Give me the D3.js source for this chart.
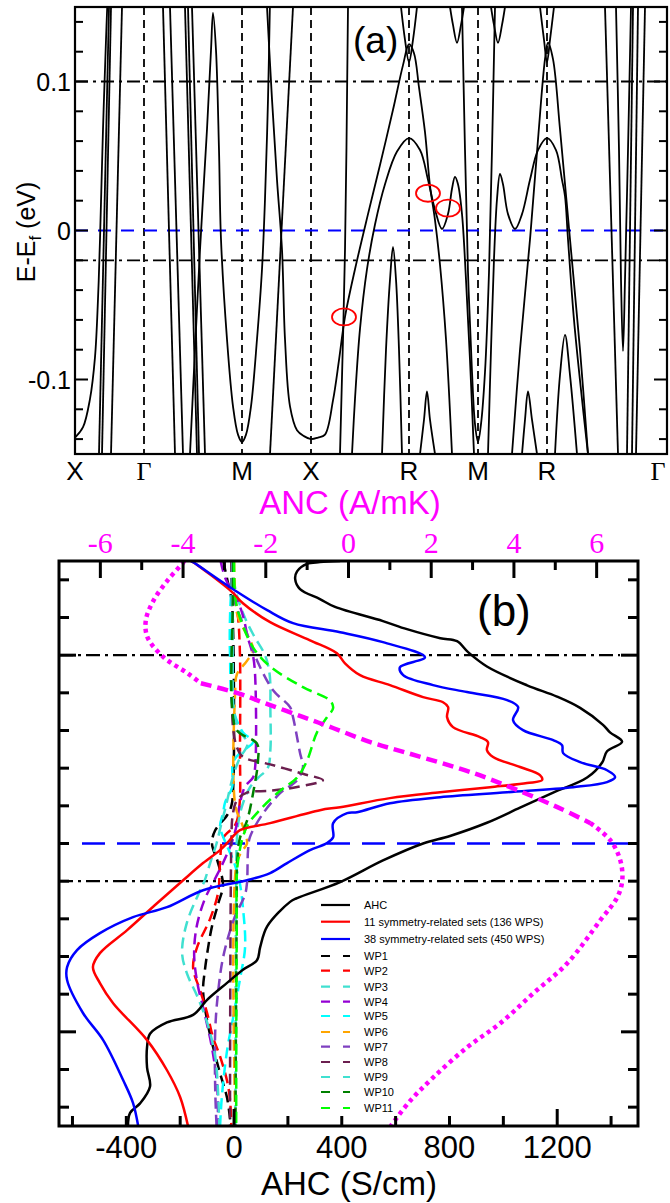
<!DOCTYPE html>
<html><head><meta charset="utf-8">
<script src="https://cdn.jsdelivr.net/npm/d3@7"></script>
<style>
body{margin:0;background:#fff}
text{font-family:"Liberation Sans",Arial,Helvetica,sans-serif}
</style></head>
<body><svg id="chart" width="670" height="1203"></svg>
<script>
// ---------------- DATA ----------------
// Panel (a): band structure. k in path units, E in eV
const kLabels = ["X","Γ","M","X","R","M","R","Γ"];
const kPositions = [0,0.69,1.67,2.36,3.34,4.03,4.72,5.92];
const kVerticals = [0.69,1.67,2.36,3.34,4.03,4.72];
const eTicksMajorA = [-0.1,0,0.1];
const refDashDot = [0.1,-0.02];
const bands = [
  [[0,-0.139],[0.08,-0.132],[0.15,-0.113],[0.20,-0.085],[0.23,-0.046],[0.25,-0.006],[0.28,0.068],[0.31,0.128],[0.325,0.155]],
  [[0.24,-0.15],[0.34,0.15]],
  [[0.27,-0.15],[0.36,0.15]],
  [[0.36,-0.15],[0.47,0.15]],
  [[0.88,0.15],[1.00,-0.15]],
  [[0.95,0.15],[1.08,-0.15]],
  [[1.10,0.15],[1.22,-0.15]],
  [[1.13,0.15],[1.24,-0.15]],
  [[1.17,0.15],[1.30,-0.15]],
  [[1.15,-0.150],[1.20,-0.080],[1.25,-0.013],[1.32,0.068],[1.36,0.121],[1.38,0.146],[1.41,0.121],[1.44,0.054],[1.46,-0.006],[1.52,-0.073],[1.58,-0.118],[1.63,-0.137],[1.67,-0.142],[1.71,-0.137],[1.76,-0.118],[1.82,-0.073],[1.87,-0.026],[1.90,0.021],[1.93,0.088],[1.95,0.155]],
  [[1.95,-0.15],[2.18,0.15]],
  [[1.92,0.150],[1.97,0.088],[2.02,0.034],[2.07,-0.013],[2.10,-0.073],[2.15,-0.118],[2.22,-0.134],[2.29,-0.138],[2.36,-0.140],[2.43,-0.139],[2.50,-0.137],[2.58,-0.114],[2.64,-0.087],[2.70,-0.058],[2.80,-0.026],[2.93,0.011],[3.05,0.044],[3.18,0.081],[3.28,0.111],[3.34,0.125],[3.39,0.119],[3.44,0.096],[3.50,0.066],[3.55,0.030],[3.60,0.007],[3.65,-0.023],[3.71,-0.073],[3.77,-0.150]],
  [[2.77,-0.150],[2.80,-0.113],[2.85,-0.066],[2.92,-0.026],[3.00,0.004],[3.10,0.031],[3.22,0.053],[3.34,0.062],[3.45,0.054],[3.53,0.034],[3.60,0.014],[3.67,0.001],[3.73,0.011],[3.77,0.028],[3.80,0.036],[3.83,0.031],[3.87,0.011],[3.91,-0.033],[3.95,-0.087],[3.99,-0.150]],
  [[2.73,0.15],[2.70,-0.013],[2.65,-0.15]],
  [[3.26,0.150],[3.30,0.128],[3.34,0.113],[3.38,0.128],[3.42,0.150]],
  [[3.75,0.150],[3.78,0.138],[3.82,0.126],[3.86,0.138],[3.89,0.150]],
  [[3.87,0.150],[3.90,0.054],[3.93,-0.028],[3.97,-0.095],[4.00,-0.130],[4.03,-0.142],[4.06,-0.130],[4.10,-0.095],[4.14,-0.028],[4.17,0.054],[4.20,0.150]],
  [[4.16,0.150],[4.19,0.138],[4.23,0.126],[4.27,0.138],[4.30,0.150]],
  [[3.07,-0.150],[3.11,-0.080],[3.15,-0.033],[3.18,-0.011],[3.21,-0.033],[3.24,-0.080],[3.27,-0.150]],
  [[3.45,-0.150],[3.49,-0.127],[3.52,-0.108],[3.55,-0.127],[3.60,-0.150]],
  [[4.47,-0.150],[4.50,-0.127],[4.53,-0.108],[4.57,-0.127],[4.62,-0.150]],
  [[4.13,-0.150],[4.16,-0.080],[4.19,-0.019],[4.22,0.021],[4.25,0.038],[4.28,0.031],[4.33,0.011],[4.40,0.001],[4.47,0.011],[4.55,0.034],[4.63,0.054],[4.72,0.062],[4.81,0.054],[4.87,0.034],[4.90,0.023],[4.93,-0.006],[4.99,-0.060],[5.06,-0.107],[5.13,-0.150]],
  [[4.65,0.150],[4.69,0.128],[4.72,0.113],[4.75,0.128],[4.79,0.150]],
  [[4.37,-0.150],[4.45,-0.080],[4.55,-0.006],[4.63,0.061],[4.70,0.115],[4.73,0.126],[4.78,0.115],[4.85,0.068],[4.95,-0.006],[5.05,-0.080],[5.13,-0.150]],
  [[4.80,-0.150],[4.85,-0.097],[4.90,-0.070],[4.95,-0.097],[5.02,-0.150]],
  [[5.30,0.15],[5.43,-0.15]],
  [[5.41,0.150],[5.44,0.054],[5.46,-0.033],[5.48,-0.081],[5.50,-0.033],[5.53,0.054],[5.56,0.150]],
  [[5.58,0.15],[5.52,-0.15]],
  [[5.63,0.15],[5.57,-0.15]],
  [[5.70,0.15],[5.61,-0.15]]
];
const ellipses = [[2.69,-0.058],[3.53,0.025],[3.73,0.015]];

// Panel (b): AHC (S/cm) and ANC (A/mK) vs energy (eV)
const ahcTicks = [-600,-400,-200,0,200,400,600,800,1000,1200,1400];
const ahcLabels = [-400,0,400,800,1200];
const ancTicks = [-6,-5,-4,-3,-2,-1,0,1,2,3,4,5,6];
const ancLabels = [-6,-4,-2,0,2,4,6];
const eTicksB = [-0.14,-0.12,-0.1,-0.08,-0.06,-0.04,-0.02,0,0.02,0.04,0.06,0.08,0.1,0.12,0.14];

const ahcTotal = [[0.150,394],[0.1494,319],[0.1485,271],[0.1445,234],[0.1404,227],[0.1351,245],[0.1298,319],[0.1256,375],[0.1181,553],[0.1138,642],[0.1090,766],[0.1074,828],[0.1016,869],[0.094,939],[0.084,1088],[0.078,1199],[0.072,1285],[0.063,1370],[0.059,1396],[0.054,1441],[0.049,1385],[0.043,1367],[0.035,1311],[0.027,1185],[0.019,1062],[0.011,939],[0.004,802],[0.000,702],[-0.009,553],[-0.0205,394],[-0.029,234],[-0.031,208],[-0.044,123],[-0.055,97],[-0.062,85],[-0.067,33],[-0.074,-26],[-0.083,-100],[-0.091,-152],[-0.095,-249],[-0.101,-312],[-0.108,-323],[-0.119,-323],[-0.129,-312],[-0.138,-349],[-0.143,-386],[-0.150,-394]];
const ahcSets11 = [[0.150,-160],[0.1494,-152],[0.1335,-7],[0.1276,33],[0.1175,134],[0.1079,282],[0.1010,382],[0.0957,412],[0.0894,468],[0.0841,579],[0.0777,702],[0.0750,776],[0.0724,795],[0.0671,791],[0.0618,813],[0.0565,913],[0.0538,943],[0.0496,939],[0.0459,962],[0.0406,1062],[0.0363,1136],[0.0337,1144],[0.0321,1088],[0.0299,951],[0.0272,765],[0.0241,579],[0.0193,394],[0.0177,319],[0.0108,134],[0.0071,22],[0.0033,-7],[0.0002,-26],[-0.0035,-52],[-0.0104,-115],[-0.0195,-189],[-0.0317,-286],[-0.046,-397],[-0.0582,-498],[-0.0656,-524],[-0.0741,-498],[-0.0848,-449],[-0.1044,-323],[-0.1204,-249],[-0.1347,-200],[-0.150,-171]];
const ahcSets38 = [[0.150,-160],[0.1494,-152],[0.1361,-15],[0.1239,123],[0.1170,219],[0.1122,394],[0.1069,553],[0.0989,709],[0.0936,616],[0.0894,628],[0.0841,739],[0.0804,865],[0.0761,1014],[0.0724,1055],[0.0655,1036],[0.0602,1073],[0.0549,1185],[0.0522,1218],[0.0480,1222],[0.0432,1285],[0.0389,1385],[0.0352,1415],[0.0326,1385],[0.0299,1259],[0.0272,1014],[0.0246,765],[0.0214,579],[0.0166,457],[0.0161,420],[0.0108,368],[0.0033,368],[0.0002,345],[-0.0035,282],[-0.0104,197],[-0.0157,134],[-0.0195,48],[-0.0248,-115],[-0.0338,-249],[-0.0391,-375],[-0.0476,-498],[-0.0566,-583],[-0.0656,-620],[-0.0725,-620],[-0.0900,-561],[-0.1044,-486],[-0.1256,-412],[-0.1378,-375],[-0.150,-356]];
const ancTotal = [[0.150,-3.97],[0.1488,-4.01],[0.1398,-4.37],[0.1292,-4.71],[0.1186,-4.90],[0.1095,-4.86],[0.0989,-4.47],[0.0904,-3.89],[0.0851,-3.57],[0.0798,-2.68],[0.0740,-1.96],[0.0671,-1.09],[0.0612,-0.36],[0.0538,0.53],[0.0480,1.43],[0.0374,3.02],[0.0284,4.08],[0.0193,5.05],[0.0108,5.85],[0.0018,6.33],[-0.0088,6.57],[-0.0195,6.62],[-0.0285,6.50],[-0.0407,6.09],[-0.0636,5.29],[-0.0795,4.47],[-0.0954,3.67],[-0.1082,2.87],[-0.1242,2.05],[-0.1364,1.50],[-0.150,1.02]];

const wp1 = [[0.15,-40],[0.14,-25],[0.13,-10],[0.11,-3],[0.03,-3],[0.02,-10],[0.015,-26],[0.007,-70],[0,-82],[-0.01,-60],[-0.022,-41],[-0.032,-59],[-0.044,-82],[-0.055,-96],[-0.067,-108],[-0.078,-115],[-0.094,-100],[-0.108,-78],[-0.122,-52],[-0.135,-26],[-0.15,-12]];
const wp2 = [[0.15,-5],[0.13,5],[0.12,15],[0.1,22],[0.05,22],[0.02,20],[0.01,5],[0.003,-40],[-0.01,-52],[-0.026,-59],[-0.04,-89],[-0.055,-137],[-0.066,-152],[-0.078,-126],[-0.09,-100],[-0.103,-78],[-0.113,-52],[-0.126,-26],[-0.136,-15],[-0.15,-10]];
const wp3 = [[0.15,-5],[0.135,5],[0.12,40],[0.11,75],[0.1,115],[0.09,132],[0.07,135],[0.05,135],[0.04,125],[0.035,90],[0.03,60],[0.02,30],[0.01,15],[0,10],[-0.02,8],[-0.15,5]];
const wp4 = [[0.15,-50],[0.14,-30],[0.13,10],[0.12,35],[0.11,50],[0.1,70],[0.09,78],[0.04,78],[0.035,70],[0.03,40],[0.02,20],[0.01,10],[0,-10],[-0.01,-40],[-0.02,-75],[-0.03,-110],[-0.045,-140],[-0.06,-148],[-0.075,-135],[-0.09,-110],[-0.11,-80],[-0.13,-62],[-0.15,-60]];
const wp5 = [[0.15,-5],[0.12,-15],[0.1,-15],[0.072,-4],[0.059,33],[0.054,71],[0.048,22],[0.043,-4],[0.03,-7],[0.022,-33],[0.016,-41],[0.009,-52],[0,-30],[-0.01,0],[-0.02,20],[-0.034,33],[-0.055,41],[-0.072,22],[-0.093,-4],[-0.11,-26],[-0.134,-45],[-0.15,-52]];
const wp6 = [[0.15,0],[0.13,5],[0.12,15],[0.103,71],[0.097,48],[0.09,11],[0.08,4],[0.02,5],[0.009,33],[0,48],[-0.004,30],[-0.01,10],[-0.15,5]];
const wp7 = [[0.15,-10],[0.13,0],[0.1115,48],[0.0973,85],[0.0814,145],[0.0724,208],[0.0671,219],[0.048,245],[0.0405,256],[0.0336,234],[0.0267,171],[0.016,108],[0.0034,59],[-0.0035,52],[-0.021,48],[-0.027,41],[-0.04,0],[-0.06,-40],[-0.08,-60],[-0.1,-70],[-0.13,-70],[-0.15,-65]];
const wp8 = [[0.15,-10],[0.124,-7],[0.062,-4],[0.051,11],[0.046,33],[0.042,134],[0.037,256],[0.0336,330],[0.030,234],[0.028,134],[0.027,48],[0.023,11],[0.015,-5],[0,-10],[-0.15,-15]];
const wp9 = [[0.15,-5],[0.1,-5],[0.07,0],[0.06,20],[0.053,50],[0.045,20],[0.035,-5],[0.02,-30],[0.01,-48],[0,-65],[-0.01,-88],[-0.02,-110],[-0.025,-126],[-0.042,-175],[-0.058,-193],[-0.069,-175],[-0.081,-137],[-0.095,-100],[-0.113,-70],[-0.13,-60],[-0.15,-55]];
const wp10 = [[0.15,-3],[0.13,-4],[0.072,-7],[0.06,11],[0.053,85],[0.044,89],[0.027,71],[0.012,48],[0.003,22],[-0.012,11],[-0.03,10],[-0.15,5]];
const wp11 = [[0.15,0],[0.13,5],[0.12,22],[0.104,71],[0.094,134],[0.083,256],[0.076,356],[0.072,368],[0.067,345],[0.059,308],[0.044,271],[0.035,234],[0.028,171],[0.018,97],[0.009,48],[-0.009,15],[-0.05,10],[-0.15,8]];

const wpNames = ["WP1","WP2","WP3","WP4","WP5","WP6","WP7","WP8","WP9","WP10","WP11"];
const wpColors = ["#000000","#ff0000","#40e0d0","#9400d3","#00ffff","#ffa500","#7f40c0","#6b1f4f","#40e0d0","#008000","#00ff00"];
const wpSeries = [wp1,wp2,wp3,wp4,wp5,wp6,wp7,wp8,wp9,wp10,wp11];
const legendSolid = [["AHC","#000000"],["11 symmetry-related sets (136 WPS)","#ff0000"],["38 symmetry-related sets (450 WPS)","#0000ff"]];

// ---------------- DRAWING ----------------
const svg = d3.select("#chart");
const fmtHyphen = (d,p) => d===0 ? "0" : (d<0?"-":"") + (p!=null ? Math.abs(d).toFixed(p) : String(Math.abs(d)));

// ===== Panel (a) =====
const A = {l:75, r:667, t:7, b:454};
const kx = d3.scaleLinear().domain([0,5.92]).range([A.l,A.r]);
const ey = d3.scaleLinear().domain([-0.15,0.15]).range([A.b,A.t]);
const ga = svg.append("g");
ga.append("defs").append("clipPath").attr("id","clipA").append("rect")
  .attr("x",A.l).attr("y",A.t).attr("width",A.r-A.l).attr("height",A.b-A.t);

const gA = ga.append("g").attr("clip-path","url(#clipA)");
gA.selectAll("line.kv").data(kVerticals).join("line")
  .attr("x1",d=>kx(d)).attr("x2",d=>kx(d)).attr("y1",A.t).attr("y2",A.b)
  .attr("stroke","#000").attr("stroke-width",1.8).attr("stroke-dasharray","8,5");
gA.selectAll("line.dd").data(refDashDot).join("line")
  .attr("x1",A.l).attr("x2",A.r).attr("y1",d=>ey(d)).attr("y2",d=>ey(d))
  .attr("stroke","#000").attr("stroke-width",1.8).attr("stroke-dasharray","13,5,3,5");
gA.append("line").attr("x1",A.l).attr("x2",A.r).attr("y1",ey(0)).attr("y2",ey(0))
  .attr("stroke","#0000ff").attr("stroke-width",2).attr("stroke-dasharray","13,10");
const bandLine = d3.line().x(d=>kx(d[0])).y(d=>ey(d[1])).curve(d3.curveCatmullRom.alpha(0.5));
gA.selectAll("path.band").data(bands).join("path")
  .attr("d",bandLine).attr("fill","none").attr("stroke","#000").attr("stroke-width",1.8);
gA.selectAll("ellipse").data(ellipses).join("ellipse")
  .attr("cx",d=>kx(d[0])).attr("cy",d=>ey(d[1])).attr("rx",12).attr("ry",8.5)
  .attr("fill","none").attr("stroke","#ff0000").attr("stroke-width",1.8);

ga.append("rect").attr("x",A.l).attr("y",A.t).attr("width",A.r-A.l).attr("height",A.b-A.t)
  .attr("fill","none").attr("stroke","#000").attr("stroke-width",2.2);
const eTicksA = d3.range(-7,8).map(i=>i*0.02);
eTicksA.forEach(v=>{
  const major = eTicksMajorA.some(m=>Math.abs(m-v)<1e-9);
  const len = major?13:8;
  ga.append("line").attr("x1",A.l).attr("x2",A.l+len).attr("y1",ey(v)).attr("y2",ey(v)).attr("stroke","#000").attr("stroke-width",2);
  ga.append("line").attr("x1",A.r).attr("x2",A.r-len).attr("y1",ey(v)).attr("y2",ey(v)).attr("stroke","#000").attr("stroke-width",2);
});
ga.selectAll("text.yl").data(eTicksMajorA).join("text")
  .attr("x",A.l-4).attr("y",d=>ey(d)+9).attr("text-anchor","end").attr("font-size",25)
  .text(d=>fmtHyphen(d,1));
ga.selectAll("text.kl").data(kPositions).join("text")
  .attr("x",(d,i)=>i===kPositions.length-1 ? kx(d)-9 : kx(d)).attr("y",480).attr("text-anchor","middle").attr("font-size",26)
  .style("font-family",(d,i)=>kLabels[i]==="Γ"?"'Liberation Serif',serif":null)
  .text((d,i)=>kLabels[i]);
const yl = ga.append("text").attr("transform","translate(35,232) rotate(-90)").attr("text-anchor","middle").attr("font-size",25);
yl.append("tspan").text("E-E");
yl.append("tspan").attr("font-size",17).attr("dy",6).text("f");
yl.append("tspan").attr("dy",-6).text(" (eV)");
ga.append("text").attr("x",353).attr("y",53).attr("font-size",37).text("(a)");

// ===== Panel (b) =====
const B = {l:59, r:638, t:561, b:1126};
const ahcX = d3.scaleLinear().domain([-650,1500]).range([B.l,B.r]);
const ancX = d3.scaleLinear().domain([-7,7]).range([B.l,B.r]);
const eyB = d3.scaleLinear().domain([-0.15,0.15]).range([B.b,B.t]);
const gb = svg.append("g");
gb.append("defs").append("clipPath").attr("id","clipB").append("rect")
  .attr("x",B.l).attr("y",B.t).attr("width",B.r-B.l).attr("height",B.b-B.t);
const gB = gb.append("g").attr("clip-path","url(#clipB)");

gB.selectAll("line.dd").data(refDashDot).join("line")
  .attr("x1",B.l).attr("x2",B.r-18).attr("y1",d=>eyB(d)).attr("y2",d=>eyB(d))
  .attr("stroke","#000").attr("stroke-width",2.2).attr("stroke-dasharray","14,5,3,5");
gB.append("line").attr("x1",B.l+23).attr("x2",B.r).attr("y1",eyB(0)).attr("y2",eyB(0))
  .attr("stroke","#0000ff").attr("stroke-width",2.5).attr("stroke-dasharray","23,12");

const ahcLine = d3.line().y(d=>eyB(d[0])).x(d=>ahcX(d[1])).curve(d3.curveCatmullRom.alpha(0.5));
const ancLine = d3.line().y(d=>eyB(d[0])).x(d=>ancX(d[1])).curve(d3.curveCatmullRom.alpha(0.5));

gB.selectAll("path.wp").data(wpSeries).join("path")
  .attr("d",ahcLine).attr("fill","none")
  .attr("stroke",(d,i)=>wpColors[i]).attr("stroke-width",2.5).attr("stroke-dasharray","11,6");
gB.append("path").datum(ahcTotal).attr("d",ahcLine).attr("fill","none").attr("stroke","#000").attr("stroke-width",2.5);
gB.append("path").datum(ahcSets11).attr("d",ahcLine).attr("fill","none").attr("stroke","#ff0000").attr("stroke-width",2.5);
gB.append("path").datum(ahcSets38).attr("d",ahcLine).attr("fill","none").attr("stroke","#0000ff").attr("stroke-width",2.5);
gB.append("path").datum(ancTotal.filter(d=>d[0]>=0.084)).attr("d",ancLine).attr("fill","none").attr("stroke","#ff00ff").attr("stroke-width",4.5).attr("stroke-dasharray","4,4");
gB.append("path").datum(ancTotal.filter(d=>d[0]<=0.0852&&d[0]>=0.0108)).attr("d",ancLine).attr("fill","none").attr("stroke","#ff00ff").attr("stroke-width",4.5).attr("stroke-dasharray","11,6");
gB.append("path").datum(ancTotal.filter(d=>d[0]<=0.0108)).attr("d",ancLine).attr("fill","none").attr("stroke","#ff00ff").attr("stroke-width",4.5).attr("stroke-dasharray","4,4");

gb.append("rect").attr("x",B.l).attr("y",B.t).attr("width",B.r-B.l).attr("height",B.b-B.t)
  .attr("fill","none").attr("stroke","#000").attr("stroke-width",3);
ancTicks.forEach(v=>{
  const len = (v%2===0)?17:9;
  gb.append("line").attr("x1",ancX(v)).attr("x2",ancX(v)).attr("y1",B.t).attr("y2",B.t+len).attr("stroke","#000").attr("stroke-width",3);
});
gb.selectAll("text.anc").data(ancLabels).join("text")
  .attr("x",d=>ancX(d)).attr("y",553).attr("text-anchor","middle").attr("font-size",30)
  .attr("fill","#ff00ff").style("font-family","'Liberation Serif','Times New Roman',serif")
  .text(d=>fmtHyphen(d));
gb.append("text").attr("x",350).attr("y",514).attr("text-anchor","middle").attr("font-size",33).attr("fill","#ff00ff").text("ANC (A/mK)");
ahcTicks.forEach(v=>{
  const len = (v===0||v===1200)?17:10;
  gb.append("line").attr("x1",ahcX(v)).attr("x2",ahcX(v)).attr("y1",B.b).attr("y2",B.b-len).attr("stroke","#000").attr("stroke-width",3);
});
gb.selectAll("text.ahc").data(ahcLabels).join("text")
  .attr("x",d=>ahcX(d)).attr("y",1158).attr("text-anchor","middle").attr("font-size",31)
  .text(d=>fmtHyphen(d));
gb.append("text").attr("x",349).attr("y",1195).attr("text-anchor","middle").attr("font-size",33).text("AHC (S/cm)");
eTicksB.forEach(v=>{
  const major = Math.abs(Math.abs(v)-0.1)<1e-9;
  const len = major?17:10;
  gb.append("line").attr("x1",B.l).attr("x2",B.l+len).attr("y1",eyB(v)).attr("y2",eyB(v)).attr("stroke","#000").attr("stroke-width",3);
  gb.append("line").attr("x1",B.r).attr("x2",B.r-len).attr("y1",eyB(v)).attr("y2",eyB(v)).attr("stroke","#000").attr("stroke-width",3);
});
gb.append("text").attr("x",477).attr("y",626).attr("font-size",44).text("(b)");

const legendItems = legendSolid.map(d=>({name:d[0],color:d[1],dash:null}))
  .concat(wpNames.map((n,i)=>({name:n,color:wpColors[i],dash:"9,13"})));
const legendY = [905,921.7,939,956,970.7,986.7,1001.7,1016,1032,1046.7,1062,1077,1092,1108];
const lg = gb.append("g");
legendItems.forEach((it,i)=>{
  const y = legendY[i];
  lg.append("line").attr("x1",321).attr("x2",350).attr("y1",y).attr("y2",y)
    .attr("stroke",it.color).attr("stroke-width",2.2).attr("stroke-dasharray",it.dash);
  lg.append("text").attr("x",364).attr("y",y+4).attr("font-size",11).text(it.name);
});
</script></body></html>
